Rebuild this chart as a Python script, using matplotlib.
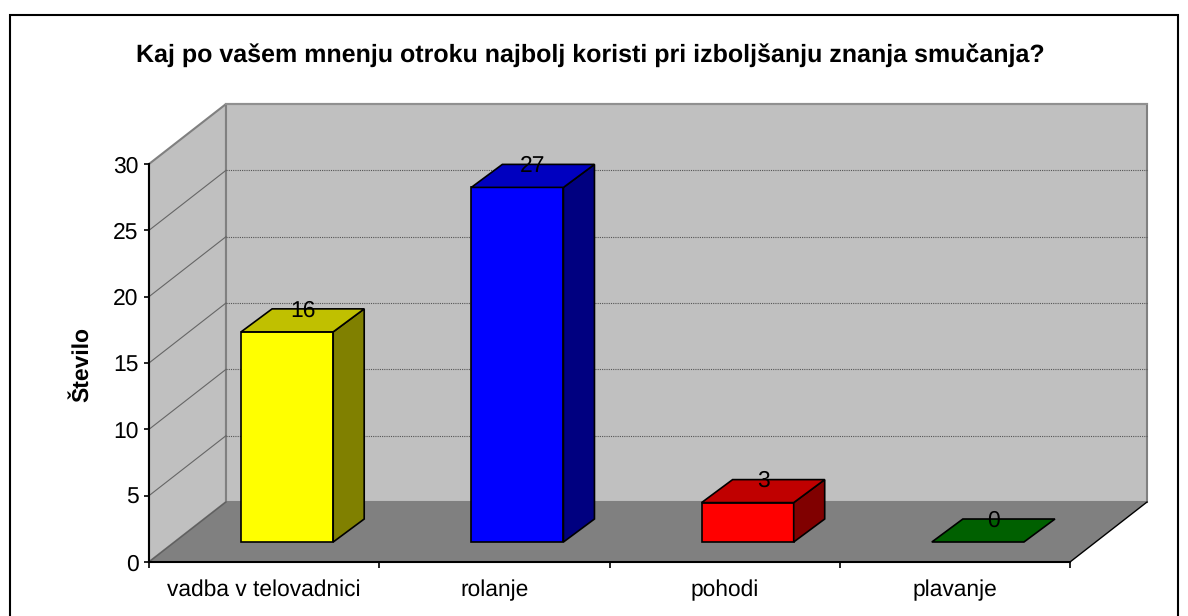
import matplotlib
matplotlib.use('Agg')
import matplotlib.pyplot as plt
from matplotlib.patches import Rectangle
from matplotlib.transforms import offset_copy

categories = ['vadba v telovadnici', 'rolanje', 'pohodi', 'plavanje']
values = [16, 27, 3, 0]
front_colors = ['#ffff00', '#0000ff', '#ff0000', '#008000']
top_colors = ['#c0c000', '#0000c0', '#c00000', '#006000']
side_colors = ['#808000', '#000080', '#800000', '#004000']
y_ticks = [0, 5, 10, 15, 20, 25, 30]

title = 'Kaj po vašem mnenju otroku najbolj koristi pri izboljšanju znanja smučanja?'
y_label = 'Število'

plt.rcParams['font.family'] = ['Liberation Sans', 'DejaVu Sans']
plt.rcParams['text.hinting'] = 'no_hinting'

fig = plt.figure(figsize=(11.88, 6.16), dpi=100)
ax = fig.add_axes([149 / 1188, 54 / 616, 921 / 1188, 398 / 616])
ax.set_xlim(0, 4)
ax.set_ylim(0, 30)
ax.patch.set_visible(False)

# depth of the fake 3d box, in data units
dx = 77 / 230.25
dy = 60 / 13.27

ax.fill([0, dx, dx, 0], [0, dy, 30 + dy, 30], fc='#c0c0c0', ec='#808080', lw=1.5, clip_on=False, zorder=1)
ax.fill([dx, 4 + dx, 4 + dx, dx], [dy, dy, 30 + dy, 30 + dy], fc='#c0c0c0', ec='#808080', lw=1.5, clip_on=False, zorder=1)
ax.fill([0, 4, 4 + dx, dx], [0, 0, dy, dy], fc='#808080', ec='none', clip_on=False, zorder=2)
ax.plot([4, 4 + dx], [0, dy], color='black', lw=1, clip_on=False, zorder=2)
ax.plot([0, dx], [0, dy], color='#606060', lw=1, clip_on=False, zorder=2)

for t in y_ticks[1:-1]:
    ax.plot([0, dx], [t, t + dy], color='#666666', lw=0.8, clip_on=False, zorder=2)
    ax.plot([dx, 4 + dx], [t + dy, t + dy], color='#555555', lw=0.8, ls=(0, (1, 1)), clip_on=False, zorder=2)
ax.plot([dx, 4 + dx], [30 + dy, 30 + dy], color='#909090', lw=1.5, clip_on=False, zorder=2)

# bars sit in the middle of the floor depth, slightly foreshortened
w = 0.4
base = 20 / 13.27
bx = 31 / 230.25
by = 23 / 13.27
shrink = 0.99
ec = 'black'
label_tr = offset_copy(ax.transData, fig=fig, y=-1.5, units='dots')
for i, v in enumerate(values):
    x0 = i + 0.4
    x1 = x0 + w
    top = base + v * shrink
    if v > 0:
        ax.fill([x0, x1, x1, x0], [base, base, top, top], fc=front_colors[i], ec=ec, lw=1.2, clip_on=False, zorder=3)
        ax.fill([x1, x1 + bx, x1 + bx, x1], [base, base + by, top + by, top], fc=side_colors[i], ec=ec, lw=1.2, clip_on=False, zorder=3)
    ax.fill([x0, x1, x1 + bx, x0 + bx], [top, top, top + by, top + by], fc=top_colors[i], ec=ec, lw=1.2, clip_on=False, zorder=3)
    ax.text(x0 + w / 2 + bx / 2, top + by, str(v), ha='center', va='center', fontsize=16.5, color='black', clip_on=False, zorder=4, transform=label_tr)

ax.set_xticks(range(5))
ax.set_xticklabels([])
ax.set_xticks([i + 0.5 for i in range(4)], categories, minor=True)
ax.set_yticks(y_ticks)
ax.tick_params(axis='x', which='major', length=4, width=1.2)
ax.tick_params(axis='x', which='minor', length=0, pad=12.5, labelsize=16.4)
ax.tick_params(axis='y', length=3.6, width=1.2, labelsize=16.5, pad=4)
for s in ['top', 'right']:
    ax.spines[s].set_visible(False)
for s in ['left', 'bottom']:
    ax.spines[s].set_linewidth(1.5)
    ax.spines[s].set_zorder(5)

fig.text(82 / 1188, 1 - 364 / 616, y_label, rotation=90, ha='center', va='center', fontsize=16.5, fontweight='bold')
fig.text(590 / 1188, 1 - 55 / 616, title, ha='center', va='center', fontsize=18, fontweight='bold')

fig.add_artist(Rectangle((9.5 / 1188, -0.05), 1168 / 1188, 1 - 15 / 616 + 0.05, transform=fig.transFigure, fc='none', ec='black', lw=1.5))

fig.savefig('out.png', dpi=100)
